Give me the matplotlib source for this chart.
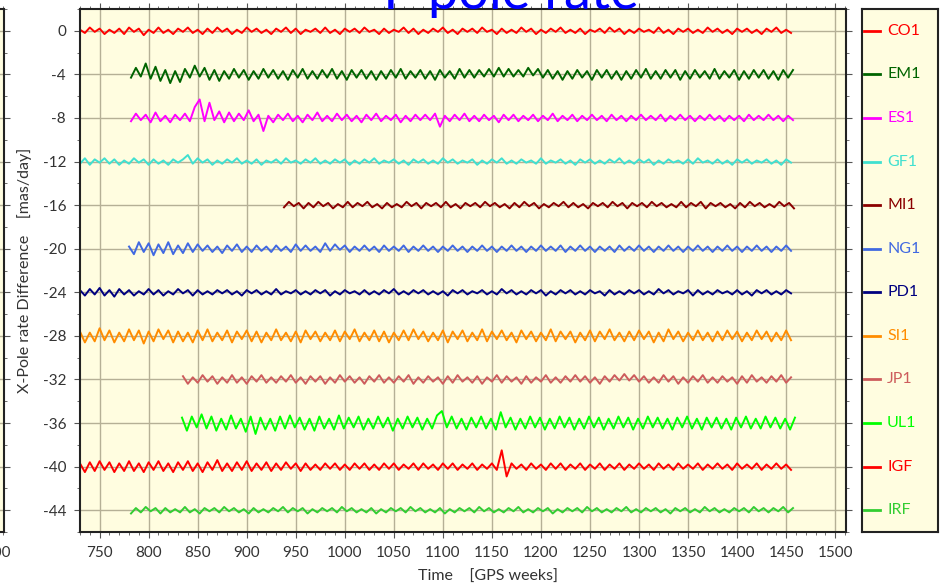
import numpy as np
import matplotlib
matplotlib.use('Agg')
import matplotlib.pyplot as plt
from matplotlib.ticker import MultipleLocator

plt.rcParams['font.family'] = ['Lato', 'DejaVu Sans']
plt.rcParams['axes.unicode_minus'] = False

# --------------------------------------------------------------------------------------------
# series info: name, offset (mas/day), first GPS week, colour
names = ['CO1', 'EM1', 'ES1', 'GF1', 'MI1', 'NG1', 'PD1', 'SI1', 'JP1', 'UL1', 'IGF', 'IRF']
offsets = [0, -4, -8, -12, -16, -20, -24, -28, -32, -36, -40, -44]
starts = [730, 782, 782, 730, 938, 780, 730, 730, 835, 834, 730, 782]
colors = ['#ff0000', '#006400', '#ff00ff', '#40e0d0', '#8b0000', '#4169e1',
          '#000080', '#ff8c00', '#cd5c5c', '#00ff00', '#ff0000', '#32cd32']
step = 5  # weeks between samples

# deviations from the offset, in 0.1 mas/day
co1 = [1,-2,3,-1,2,-3,1,-2,2,-3, 3,-1,2,-4,1,-2,3,-2,1,-3, 2,-1,3,-2,1,-3,2,-2,3,-1,
       2,-3,1,-2,3,-1,2,-2,1,-3, 2,-1,3,-2,2,-3,1,-1,2,-2, 3,-2,1,-3,2,-1,2,-2,3,-1,
       1,-3,2,-2,1,-1,3,-2,2,-3, 1,-2,2,-1,3,-2,1,-3,2,-1, 2,-2,3,-1,1,-3,2,-2,1,-2,
       3,-1,2,-3,1,-2,2,-1,3,-2, 1,-2,2,-3,1,-1,2,-2,3,-1, 2,-3,1,-2,2,-1,1,-2,3,-2,
       1,-3,2,-1,2,-2,1,-2,3,-1, 2,-2,1,-3,2,-1,2,-2,1,-3, 2,-1,3,-2,1,-2]
em1 = [-3,6,-2,10,-4,7,-6,4,-8,3, -7,5,-3,8,-2,6,-5,4,-6,3, -4,5,-3,4,-5,3,-4,5,-3,4,
       -4,3,-5,4,-3,5,-4,3,-4,4, -3,5,-4,3,-5,4,-3,4,-4,3, -5,3,-4,4,-3,5,-4,3,-3,4,
       -4,3,-5,4,-3,3,-4,5,-3,4, -3,4,-2,5,-2,6,-2,5,-2,4, -2,6,-1,5,-3,4,-4,3,-5,3,
       -4,4,-3,3,-5,4,-3,4,-4,3, -5,3,-4,4,-3,5,-4,3,-4,4, -3,4,-5,3,-4,4,-3,3,-4,5,
       -4,3,-3,4,-5,3,-4,4,-3,4, -4,3,-5,4,-3,4]
es1 = [-3,4,-2,3,-4,5,-3,2,-4,3, -2,4,-3,10,17,-3,14,-2,6,-4, 5,-3,4,-2,7,-3,3,-12,2,-4,
       3,-2,4,-3,2,-4,3,-2,5,-3, 2,-3,4,-2,3,-3,2,-4,3,-2, 4,-3,2,-2,3,-4,2,-3,3,-2,
       3,-2,4,-8,2,-3,3,-2,4,-3, 2,-3,3,-2,2,-4,3,-2,3,-3, 2,-2,3,-3,2,-2,4,-3,2,-2,
       3,-3,2,-2,3,-2,2,-3,3,-2, 2,-3,2,-2,3,-2,2,-2,3,-3, 2,-2,3,-2,2,-3,2,-2,3,-2,
       2,-3,2,-2,2,-3,3,-2,2,-2, 3,-2,2,-3,2,-2]
gf1 = [-2,3,-3,2,-1,3,-2,2,-3,1, -2,3,-1,2,-3,2,-2,1,-3,2, -1,2,6,-2,3,-1,2,-3,1,-2,
       2,-1,3,-2,1,-2,2,-3,1,-1, 2,-2,3,-1,1,-2,2,-1,3,-2, 1,-2,2,-1,2,-3,1,-2,2,-1,
       3,-2,1,-1,2,-2,1,-3,2,-1, 2,-2,1,-2,3,-1,2,-2,1,-1, 2,-3,1,-2,2,-1,3,-2,1,-2,
       2,-1,1,-2,3,-2,1,-1,2,-2, 1,-3,2,-1,2,-2,1,-2,2,-1, 3,-2,1,-2,2,-1,2,-3,1,-2,
       2,-1,1,-2,2,-2,3,-1,1,-2, 2,-2,1,-3,2,-1,2,-2,1,-1, 2,-2,1,-3,2,-1]
mi1 = [-2,3,-1,2,-3,2,-2,3,-1,2, -3,1,-2,3,-2,2,-1,3,-2,1, -3,2,-2,1,-2,3,-1,2,-3,2,
       -1,2,-2,3,-2,1,-3,2,-1,2, -2,3,-1,2,-2,1,-3,2,-2,3, -1,2,-3,1,-2,2,-1,3,-2,2,
       -2,1,-3,2,-1,2,-2,3,-1,2, -3,2,-1,2,-2,3,-1,2,-2,1, -2,3,-2,2,-1,3,-3,2,-1,2,
       -2,1,-3,2,-2,3,-1,2,-2,1, -2,3,-1,2,-3]
ng1 = [2,-5,6,-3,5,-6,4,-4,6,-5, 3,-4,5,-3,4,-2,3,-3,2,-4, 3,-2,4,-3,2,-3,3,-2,2,-3,
       3,-2,2,-3,4,-2,3,-2,2,-3, 5,-2,4,-1,3,-3,2,-2,3,-2, 2,-3,3,-2,2,-2,3,-3,2,-2,
       3,-2,2,-3,2,-2,3,-2,2,-3, 2,-2,3,-2,2,-3,2,-2,3,-2, 2,-3,2,-2,3,-2,2,-2,3,-3,
       2,-2,3,-2,2,-3,2,-2,2,-3, 3,-2,2,-2,3,-2,2,-3,2,-2, 3,-2,2,-3,2,-2,3,-2,2,-3,
       2,-2,3,-2,2,-3,2,-2,3,-2, 2,-3,2,-2,3,-2]
pd1 = [2,-3,3,-2,4,-3,2,-4,3,-2, 2,-3,1,-2,3,-2,2,-3,1,-2, 3,-1,2,-3,2,-2,1,-2,2,-1,
       2,-2,1,-3,2,-1,2,-2,1,-2, 3,-2,1,-1,2,-2,1,-2,2,-1, 2,-3,1,-2,2,-1,1,-2,2,-2,
       1,-2,2,-1,3,-2,1,-2,2,-1, 2,-2,1,-2,1,-3,2,-1,2,-2, 1,-1,2,-2,1,-2,3,-1,2,-2,
       1,-2,2,-1,2,-3,1,-2,2,-1, 2,-2,1,-2,2,-1,1,-3,2,-2, 1,-2,2,-1,2,-2,1,-2,3,-1,
       2,-2,1,-1,2,-3,2,-2,1,-2, 2,-1,1,-2,2,-2,1,-3,2,-1, 2,-2,1,-2,2,-1]
si1 = [4,-6,3,-5,7,-4,5,-6,3,-5, 6,-4,5,-7,4,-5,6,-3,5,-6, 4,-5,3,-6,5,-4,6,-5,3,-4,
       5,-6,4,-3,5,-5,4,-6,3,-4, 6,-4,3,-5,4,-6,5,-3,4,-5, 3,-4,5,-5,4,-3,6,-5,3,-4,
       5,-5,4,-6,3,-4,5,-4,6,-3, 4,-5,3,-4,5,-6,4,-3,5,-5, 3,-4,6,-5,4,-3,5,-4,3,-6,
       5,-3,4,-5,3,-4,6,-5,4,-3, 4,-6,3,-4,5,-5,4,-3,6,-4, 3,-5,4,-4,5,-3,4,-6,3,-5,
       6,-3,4,-5,3,-4,5,-4,3,-5, 4,-4,5,-3,4,-5,3,-4,5,-3, 4,-5,3,-4,5,-4]
jp1 = [3,-4,2,-3,4,-2,3,-4,2,-3, 4,-3,2,-4,3,-2,4,-3,2,-3, 3,-2,4,-3,2,-4,3,-2,3,-4,
       2,-3,4,-2,3,-3,2,-4,3,-2, 4,-3,2,-3,3,-2,4,-4,2,-3, 3,-2,2,-4,3,-3,4,-2,2,-3,
       3,-4,2,-2,4,-3,3,-2,2,-4, 3,-3,2,-2,4,-3,2,-3,3,-2, 4,-2,3,-3,2,-4,3,-2,4,-1,
       5,-1,4,-2,3,-3,2,-3,4,-2, 3,-4,2,-3,3,-2,4,-3,2,-3, 3,-2,2,-4,3,-3,4,-2,2,-3,
       3,-2,4,-3,2]
ul1 = [5,-7,6,-4,8,-5,6,-7,4,-6, 7,-5,4,-8,6,-10,5,-6,4,-7, 6,-5,7,-4,5,-6,4,-7,6,-5,
       4,-6,7,-5,5,-4,6,-6,4,-5, 6,-4,5,-7,4,-5,6,-4,5,-6, 4,-5,7,11,-4,6,-5,4,-6,5,
       -4,6,-5,4,-6,10,-4,5,-6,4, -5,6,-4,5,-6,4,-5,6,-4,5, -6,4,-5,6,-4,5,-6,4,-5,6,
       -4,5,-6,4,-5,6,-4,5,-5,4, -6,5,-4,6,-5,4,-6,5,-4,5, -5,4,-6,5,-4,6,-5,4,-5,6,
       -4,5,-5,4,-6,5]
igf = [3,-5,4,-4,5,-3,4,-5,3,-4, 5,-4,3,-5,4,-3,5,-4,3,-5, 4,-3,5,-4,3,-5,4,-3,6,-4,
       3,-4,4,-3,5,-4,3,-3,4,-4, 3,-3,4,-2,3,-4,3,-3,2,-3, 3,-2,3,-3,2,-3,3,-2,3,-3,
       2,-3,3,-2,3,-3,2,-2,3,-3, 3,-2,2,-3,3,-2,3,-3,2,-2, 3,-3,2,-2,3,-3,15,-9,3,-2,
       2,-3,3,-2,2,-3,3,-2,3,-3, 2,-2,3,-3,2,-2,3,-3,2,-2, 3,-3,2,-2,3,-2,2,-3,3,-2,
       2,-3,3,-2,2,-2,3,-3,2,-2, 3,-2,2,-3,3,-2,2,-2,3,-3, 2,-2,3,-2,2,-3]
irf = [-3,2,-2,3,-1,2,-3,2,-2,1, -2,3,-2,1,-3,2,-1,2,-2,3, -1,2,-2,1,-3,2,-2,1,-2,2,
       -1,3,-2,2,-1,2,-3,1,-2,2, -1,2,-2,3,-1,2,-2,1,-2,2, -3,1,-2,2,-1,2,-2,3,-1,2,
       -2,1,-2,2,-3,1,-2,2,-1,2, -2,3,-1,2,-2,1,-2,2,-1,3, -2,1,-2,2,-1,2,-3,1,-2,2,
       -1,2,-2,3,-1,2,-2,1,-2,2, -1,3,-2,1,-2,2,-1,2,-2,1, -3,2,-1,2,-2,1,-2,3,-1,2,
       -2,1,-2,2,-1,2,-2,3,-1,2, -2,2,-1,3,-2,2]
series = [co1, em1, es1, gf1, mi1, ng1, pd1, si1, jp1, ul1, igf, irf]
# --------------------------------------------------------------------------------------------

bg = '#fffde0'
box = [0.0842, 0.0952, 0.8063, 0.8895]
week_ticks = list(range(750, 1501, 50))

fig = plt.figure(figsize=(9.5, 5.88), dpi=100)


def style_axes(a):
    a.set_xlim(730, 1511)
    a.set_ylim(-46, 2)
    a.xaxis.set_major_locator(MultipleLocator(50))
    a.xaxis.set_minor_locator(MultipleLocator(10))
    a.yaxis.set_major_locator(MultipleLocator(4))
    a.yaxis.set_minor_locator(MultipleLocator(2))
    a.tick_params(which='both', direction='out', top=True, right=True,
                  color='#555555', labelcolor='#333333', labelsize=11)
    a.tick_params(which='major', length=4, pad=6)
    a.tick_params(which='minor', length=2.5)
    a.grid(True, which='major', color='#b5b096', lw=1.0)
    for s in a.spines.values():
        s.set_linewidth(1.5)
        s.set_color('#222222')


# cut-off neighbour panel on the far left, only its last week label peeks in
ax0 = fig.add_axes([0.0042 - box[2], box[1], box[2], box[3]], facecolor=bg)
style_axes(ax0)
ax0.set_xticks(week_ticks, labels=[''] * (len(week_ticks) - 1) + ['1500'])
ax0.tick_params(labelleft=False)

ax = fig.add_axes(box, facecolor=bg)
style_axes(ax)
ax.tick_params(labelright=False, labeltop=False)

for name, off, st, c, dev in zip(names, offsets, starts, colors, series):
    wk = st + step * np.arange(len(dev))
    ax.plot(wk, off + np.array(dev) / 10, color=c, lw=1.4)

# legend panel
lax = fig.add_axes([0.9074, box[1], 0.08, box[3]], facecolor=bg)
lax.set_xlim(0, 1)
lax.set_ylim(-46, 2)
lax.set_xticks([])
lax.set_yticks([])
for s in lax.spines.values():
    s.set_linewidth(1.5)
    s.set_color('#222222')
for name, off, c in zip(names, offsets, colors):
    lax.plot([0.03, 0.24], [off, off], color=c, lw=2)
    lax.text(0.33, off, name, color=c, va='center', fontsize=11.5)

fig.text(506 / 950, 1 - 9 / 588, 'Y-pole rate', color='blue', fontsize=39,
         ha='center', va='baseline')
fig.text(25 / 950, 1 - 270 / 588, 'X-Pole rate Difference    [mas/day]', rotation=90,
         ha='center', va='center', fontsize=11.5, color='#333333')
fig.text(488 / 950, 1 - 577 / 588, 'Time    [GPS weeks]', ha='center', va='center',
         fontsize=11.5, color='#333333')

fig.savefig('out.png', dpi=100)
